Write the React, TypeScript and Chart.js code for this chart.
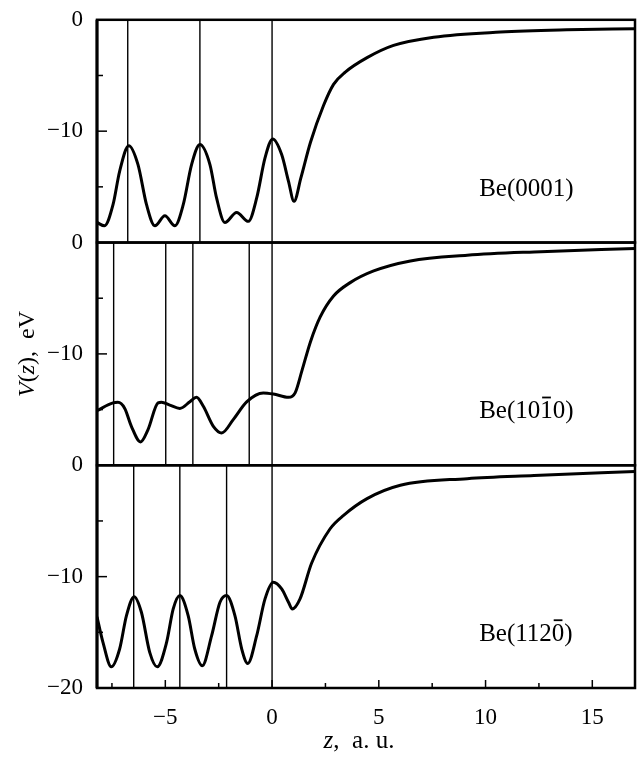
import React, { useEffect, useRef } from 'react';
import { Chart, registerables } from 'chart.js';

Chart.register(...registerables);

// ---- Data ----
const Z_0001 = [-8.2, -7.85, -7.45, -7.14, -6.71, -6.28, -5.88, -5.49, -5.02, -4.55, -4.16, -3.77, -3.38, -2.91, -2.6, -2.21, -1.66, -1.11, -0.72, -0.33, 0.03, 0.45, 0.77, 1.03, 1.35, 1.8, 2.41, 2.88, 3.43, 4.45, 5.69, 7.57, 10.7, 13.8, 17];
const V_0001 = [-18.2, -18.5, -16.6, -13.6, -11.3, -13.0, -16.6, -18.5, -17.6, -18.5, -16.6, -13.0, -11.2, -13.0, -16.0, -18.2, -17.3, -18.1, -16.0, -12.4, -10.7, -12.1, -14.5, -16.3, -14.2, -11.0, -7.7, -5.8, -4.7, -3.4, -2.3, -1.56, -1.1, -0.9, -0.8];

const Z_1010 = [-8.2, -7.45, -7.22, -6.9, -6.59, -6.16, -5.81, -5.34, -5.18, -4.79, -4.32, -3.85, -3.54, -3.22, -2.75, -2.36, -1.82, -1.19, -0.41, 0.06, 0.77, 1.08, 1.4, 1.8, 2.25, 2.88, 3.66, 4.76, 6.48, 9.14, 12.27, 17];
const V_1010 = [-15.1, -14.4, -14.35, -14.9, -16.5, -17.9, -16.8, -14.4, -14.35, -14.6, -14.9, -14.3, -13.9, -14.7, -16.5, -17.1, -15.9, -14.3, -13.5, -13.6, -13.9, -13.5, -11.5, -8.9, -6.7, -4.8, -3.6, -2.55, -1.65, -1.14, -0.84, -0.54];

const Z_1120 = [-8.2, -7.92, -7.53, -7.14, -6.82, -6.46, -6.12, -5.73, -5.38, -4.94, -4.63, -4.32, -3.93, -3.62, -3.27, -2.83, -2.44, -2.13, -1.74, -1.42, -1.14, -0.72, -0.33, 0.06, 0.45, 0.77, 0.95, 1.31, 1.85, 2.72, 3.35, 4.45, 6.01, 9.14, 12.27, 17];
const V_1120 = [-13.6, -15.9, -18.1, -16.5, -13.5, -11.8, -13.2, -16.8, -18.1, -15.9, -12.9, -11.7, -13.5, -16.5, -18.0, -15.3, -12.3, -11.7, -13.5, -16.5, -17.8, -15.3, -12.0, -10.5, -11.1, -12.3, -12.9, -12.0, -8.8, -5.7, -4.5, -3.0, -1.8, -1.2, -0.92, -0.56];

const LAYERS_0001 = [-6.76, -3.38, 0];
const LAYERS_1010 = [-7.42, -4.98, -3.71, -1.07, 0];
const LAYERS_1120 = [-6.48, -4.32, -2.13, 0];

// Miller-index labels; BAR_INDEX marks which character carries the overbar (-1: none)
const PANEL_LABELS = ['Be(0001)', 'Be(1010)', 'Be(1120)'];
const BAR_INDEX = [-1, 5, 6];
const LABEL_Z = 9.7;
const LABEL_V = -15.8;

const X_MIN = -8.2;
const X_MAX = 17;
const Y_MIN = -20;
const Y_MAX = 0;
const X_MAJOR = [-5, 0, 5, 10, 15];
const X_MINOR = [-7.5, -2.5, 2.5, 7.5, 12.5];
const Y_MAJOR = [-10];
const Y_MINOR = [-5, -15];
const Y_LABELS_UPPER = [0, -10];
const Y_LABELS_BOTTOM = [0, -10, -20];

const X_TITLE = [{ text: 'z', italic: true }, { text: ',  a. u.', italic: false }];
const Y_TITLE = [
  { text: 'V', italic: true },
  { text: '(', italic: false },
  { text: 'z', italic: true },
  { text: '),  eV', italic: false },
];

const FONT = '"Liberation Serif", "Times New Roman", serif';
const PANEL_IDS = ['y1', 'y2', 'y3'];

const fmt = (v: number) => (v < 0 ? '\u2212' + String(Math.abs(v)) : String(v));

function curve(zs: number[], vs: number[], axis: string) {
  return {
    data: zs.map((z, i) => ({ x: z, y: vs[i] })),
    yAxisID: axis,
    borderColor: '#000',
    borderWidth: 3,
    pointRadius: 0,
    fill: false,
    cubicInterpolationMode: 'monotone' as const,
  };
}

function layerLines(layers: number[], axis: string) {
  return layers.map((z) => ({
    data: [
      { x: z, y: Y_MAX },
      { x: z, y: Y_MIN },
    ],
    yAxisID: axis,
    borderColor: '#000',
    borderWidth: 1.4,
    pointRadius: 0,
    fill: false,
  }));
}

function drawRich(ctx: CanvasRenderingContext2D, segs: { text: string; italic: boolean }[], cx: number, cy: number, size: number) {
  let total = 0;
  const widths: number[] = [];
  for (const s of segs) {
    ctx.font = `${s.italic ? 'italic ' : ''}${size}px ${FONT}`;
    const w = ctx.measureText(s.text).width;
    widths.push(w);
    total += w;
  }
  let x = cx - total / 2;
  ctx.textAlign = 'left';
  ctx.textBaseline = 'middle';
  segs.forEach((s, i) => {
    ctx.font = `${s.italic ? 'italic ' : ''}${size}px ${FONT}`;
    ctx.fillText(s.text, x, cy);
    x += widths[i];
  });
}

const framePlugin = {
  id: 'panelFrames',
  afterDatasetsDraw(chart: any) {
    const ctx: CanvasRenderingContext2D = chart.ctx;
    const xs = chart.scales.x;
    ctx.save();
    ctx.strokeStyle = '#000';
    ctx.fillStyle = '#000';
    PANEL_IDS.forEach((id, idx) => {
      const ys = chart.scales[id];
      ctx.lineWidth = 2.5;
      ctx.strokeRect(xs.left, ys.top, xs.right - xs.left, ys.bottom - ys.top);
      ctx.lineWidth = 1.5;
      const tick = (v: number, len: number) => {
        const py = ys.getPixelForValue(v);
        ctx.beginPath();
        ctx.moveTo(xs.left, py);
        ctx.lineTo(xs.left + len, py);
        ctx.stroke();
      };
      Y_MAJOR.forEach((v) => tick(v, 10));
      Y_MINOR.forEach((v) => tick(v, 6));
      // panel label
      const label = PANEL_LABELS[idx];
      const lx = xs.getPixelForValue(LABEL_Z);
      const ly = ys.getPixelForValue(LABEL_V);
      ctx.font = `25px ${FONT}`;
      ctx.textAlign = 'left';
      ctx.textBaseline = 'alphabetic';
      ctx.fillText(label, lx, ly);
      const bi = BAR_INDEX[idx];
      if (bi >= 0) {
        const pre = ctx.measureText(label.slice(0, bi)).width;
        const cw = ctx.measureText(label.charAt(bi)).width;
        ctx.lineWidth = 1.8;
        ctx.beginPath();
        ctx.moveTo(lx + pre + cw * 0.15, ly - 21);
        ctx.lineTo(lx + pre + cw * 0.85, ly - 21);
        ctx.stroke();
      }
    });
    const top = chart.scales.y1.top;
    const bottom = chart.scales.y3.bottom;
    ctx.lineWidth = 3;
    ctx.beginPath();
    ctx.moveTo(xs.left, top);
    ctx.lineTo(xs.left, bottom);
    ctx.stroke();
    ctx.lineWidth = 1.5;
    const xtick = (v: number, len: number) => {
      const px = xs.getPixelForValue(v);
      ctx.beginPath();
      ctx.moveTo(px, bottom);
      ctx.lineTo(px, bottom - len);
      ctx.stroke();
    };
    X_MAJOR.forEach((v) => xtick(v, 8));
    X_MINOR.forEach((v) => xtick(v, 5));
    // axis titles
    drawRich(ctx, X_TITLE, 359, 741, 25);
    ctx.translate(28, (top + bottom) / 2);
    ctx.rotate(-Math.PI / 2);
    drawRich(ctx, Y_TITLE, 0, 0, 24);
    ctx.restore();
  },
};

function yScale(weight: number, labels: number[]) {
  return {
    type: 'linear' as const,
    position: 'left' as const,
    stack: 'panels',
    stackWeight: 1,
    weight,
    min: Y_MIN,
    max: Y_MAX,
    grid: { display: false },
    border: { display: false },
    afterBuildTicks: (s: any) => {
      s.ticks = labels.map((v) => ({ value: v }));
    },
    afterFit: (s: any) => {
      s.width = 97;
    },
    ticks: {
      autoSkip: false,
      padding: 6,
      color: '#000',
      font: { family: FONT, size: 23 },
      callback: (v: any) => fmt(Number(v)),
    },
  };
}

export default function App() {
  const ref = useRef<HTMLCanvasElement>(null);
  useEffect(() => {
    const datasets: any[] = [
      curve(Z_0001, V_0001, 'y1'),
      ...layerLines(LAYERS_0001, 'y1'),
      curve(Z_1010, V_1010, 'y2'),
      ...layerLines(LAYERS_1010, 'y2'),
      curve(Z_1120, V_1120, 'y3'),
      ...layerLines(LAYERS_1120, 'y3'),
    ];
    const chart = new Chart(ref.current as HTMLCanvasElement, {
      type: 'line',
      data: { datasets },
      options: {
        responsive: false,
        animation: false,
        devicePixelRatio: 1,
        layout: { padding: { top: 16, right: 5, left: 0, bottom: 0 } },
        plugins: { legend: { display: false }, tooltip: { enabled: false } },
        scales: {
          x: {
            type: 'linear',
            position: 'bottom',
            min: X_MIN,
            max: X_MAX,
            grid: { display: false },
            border: { display: false },
            afterBuildTicks: (s: any) => {
              s.ticks = X_MAJOR.map((v) => ({ value: v }));
            },
            afterFit: (s: any) => {
              s.height = 72;
            },
            ticks: {
              autoSkip: false,
              maxRotation: 0,
              padding: 8,
              color: '#000',
              font: { family: FONT, size: 23 },
              callback: (v: any) => fmt(Number(v)),
            },
          },
          y1: yScale(3, Y_LABELS_UPPER),
          y2: yScale(2, Y_LABELS_UPPER),
          y3: yScale(1, Y_LABELS_BOTTOM),
        } as any,
      },
      plugins: [framePlugin],
    } as any);
    return () => chart.destroy();
  }, []);
  return (
    <div style={{ position: 'absolute', left: 0, top: 0, width: 640, height: 760, background: '#fff' }}>
      <canvas ref={ref} width={640} height={760} style={{ width: 640, height: 760, display: 'block' }} />
    </div>
  );
}
